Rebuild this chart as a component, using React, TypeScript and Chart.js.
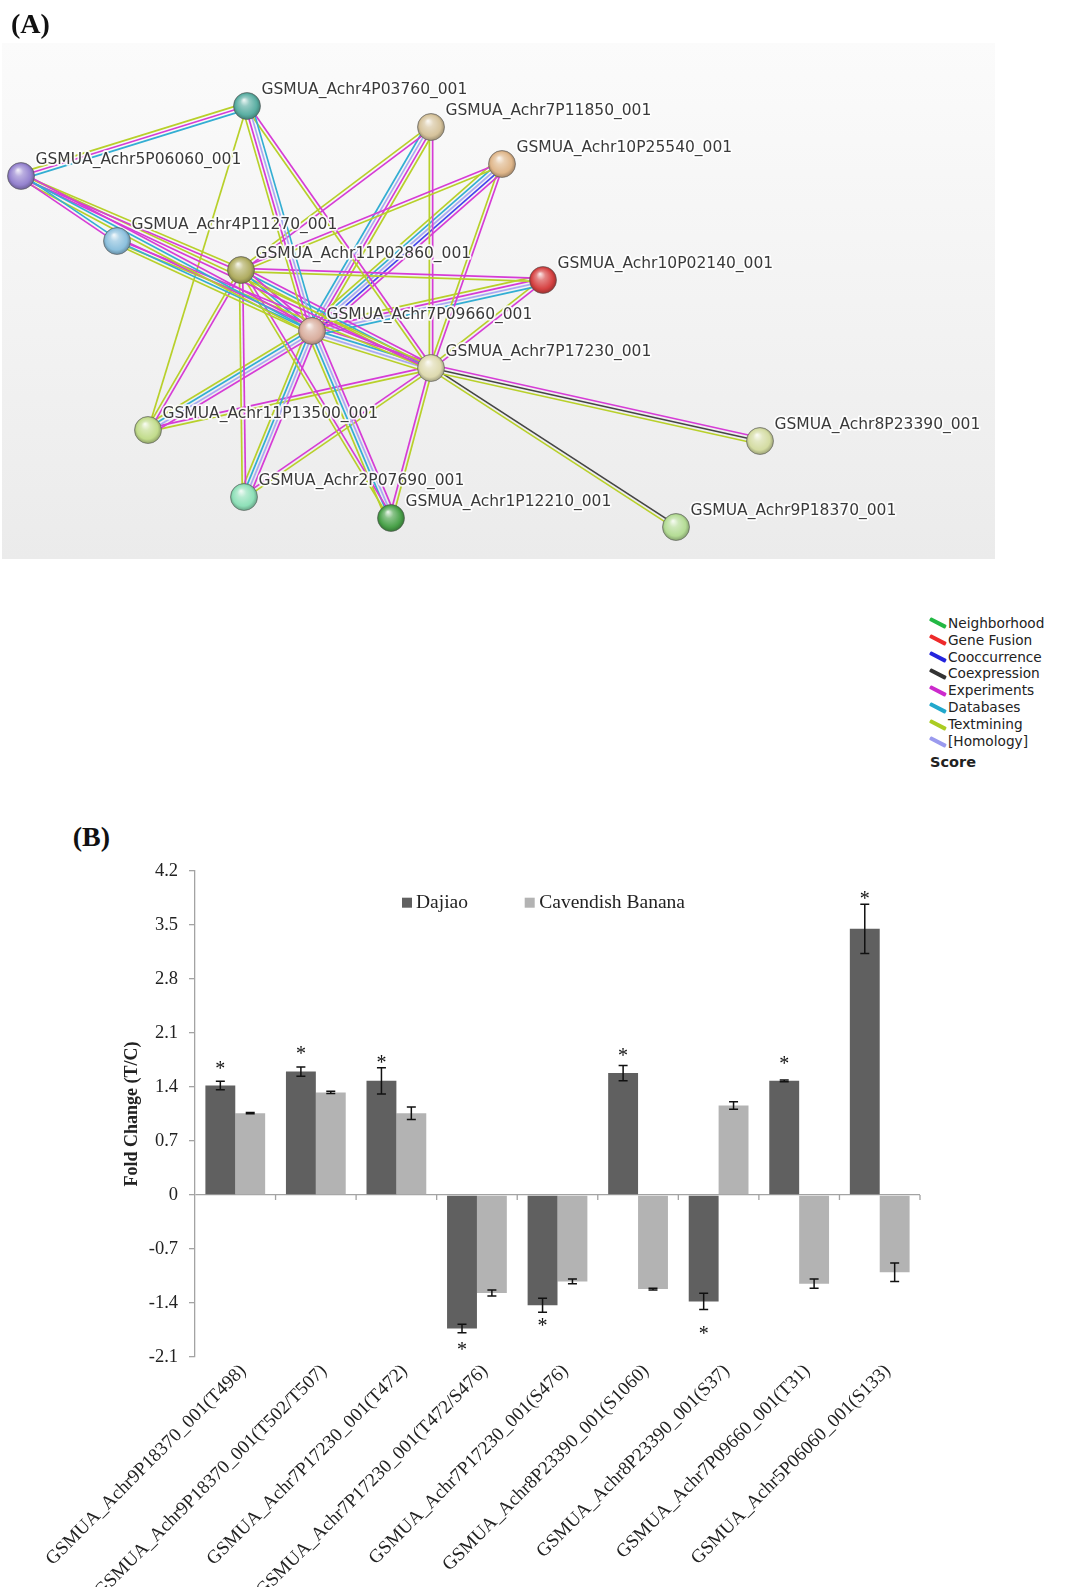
import React, { useEffect, useRef } from 'react';
import { Chart, registerables } from 'chart.js';

Chart.register(...registerables);

// ---------------- Panel A : interaction network ----------------
const nodeNames = [
  'GSMUA_Achr4P03760_001', 'GSMUA_Achr7P11850_001', 'GSMUA_Achr10P25540_001',
  'GSMUA_Achr5P06060_001', 'GSMUA_Achr4P11270_001', 'GSMUA_Achr11P02860_001',
  'GSMUA_Achr10P02140_001', 'GSMUA_Achr7P09660_001', 'GSMUA_Achr7P17230_001',
  'GSMUA_Achr11P13500_001', 'GSMUA_Achr8P23390_001', 'GSMUA_Achr2P07690_001',
  'GSMUA_Achr1P12210_001', 'GSMUA_Achr9P18370_001',
];
// layout coordinates of the nodes
const nodeX = [247, 431, 502, 21, 117, 241, 543, 312, 431, 148, 760, 244, 391, 676];
const nodeY = [106, 127, 164, 176, 241, 270, 280, 331, 368, 430, 441, 497, 518, 527];
const nodeColors = [
  '#5aaea2', '#d6c39c', '#dfb68a', '#9583cf', '#8cc0dd', '#b0ad62', '#d64242',
  '#d9ae9e', '#dedab0', '#c2dc8c', '#d4dca2', '#8ee0b8', '#4aa24a', '#b4dc95',
];
// evidence: t=textmining e=experiments d=databases h=homology c=coexpression o=cooccurrence
const edges: [number, number, string][] = [
  [3, 0, 'ted'], [3, 4, 'de'], [3, 7, 'edt'], [3, 5, 'te'], [3, 8, 'te'],
  [0, 7, 'dhet'], [0, 8, 'et'], [4, 7, 'edt'], [4, 8, 'et'],
  [5, 1, 'te'], [5, 2, 'et'], [5, 6, 'et'], [5, 7, 'edt'], [5, 8, 'edt'],
  [5, 9, 'et'], [5, 11, 'et'], [5, 12, 'et'],
  [1, 7, 'tehd'], [1, 8, 'et'], [2, 7, 'eohdt'], [2, 8, 'et'],
  [6, 7, 'dhet'], [6, 8, 'et'], [7, 8, 'edht'], [7, 9, 'ehdt'], [7, 11, 'ehdt'],
  [7, 12, 'ehdt'], [8, 9, 'te'], [8, 11, 'te'], [8, 12, 'te'], [8, 10, 'ect'],
  [8, 13, 'ct'], [0, 9, 't'],
];
const evidenceColor: Record<string, string> = {
  t: '#b8d02a', e: '#d63cd6', d: '#33aed3', h: '#aaaaf2', c: '#454545', o: '#4545ec',
};
const legendItems = ['Neighborhood', 'Gene Fusion', 'Cooccurrence', 'Coexpression', 'Experiments', 'Databases', 'Textmining', '[Homology]'];
const legendColors = ['#22b844', '#ee2a2a', '#2424dd', '#333333', '#cc2acc', '#22a8cc', '#aacc22', '#9a9aee'];

// ---------------- Panel B : fold change bars ----------------
const categories = [
  'GSMUA_Achr9P18370_001(T498)', 'GSMUA_Achr9P18370_001(T502/T507)', 'GSMUA_Achr7P17230_001(T472)',
  'GSMUA_Achr7P17230_001(T472/S476)', 'GSMUA_Achr7P17230_001(S476)', 'GSMUA_Achr8P23390_001(S1060)',
  'GSMUA_Achr8P23390_001(S37)', 'GSMUA_Achr7P09660_001(T31)', 'GSMUA_Achr5P06060_001(S133)',
];
const dajiao = [1.42, 1.60, 1.48, -1.73, -1.43, 1.58, -1.38, 1.48, 3.45];
const dajiaoErr = [0.055, 0.06, 0.17, 0.055, 0.09, 0.10, 0.105, 0.012, 0.32];
const cavendish = [1.06, 1.33, 1.06, -1.27, -1.12, -1.22, 1.16, -1.15, -1.00];
const cavendishErr = [0.008, 0.015, 0.08, 0.04, 0.03, 0.01, 0.05, 0.06, 0.12];
const starPos = [1.69, 1.88, 1.76, -1.96, -1.64, 1.86, -1.75, 1.75, 3.89];
const yTicksMin = -2.1;
const yTicksMax = 4.2;
const yStep = 0.7;

function hexToRgb(h: string) {
  const n = parseInt(h.slice(1), 16);
  return [(n >> 16) & 255, (n >> 8) & 255, n & 255];
}
function mix(h: string, target: number, a: number) {
  const [r, g, b] = hexToRgb(h);
  const f = (c: number) => Math.round(c + (target - c) * a);
  return `rgb(${f(r)},${f(g)},${f(b)})`;
}

function NetworkChart() {
  const ref = useRef<HTMLCanvasElement>(null);
  useEffect(() => {
    const datasets: any[] = [];
    const spacing = 3.3;
    edges.forEach(([a, b, ev]) => {
      const x1 = nodeX[a], y1 = nodeY[a], x2 = nodeX[b], y2 = nodeY[b];
      const dx = x2 - x1, dy = y2 - y1;
      const len = Math.hypot(dx, dy);
      const px = -dy / len, py = dx / len;
      ev.split('').forEach((k, i) => {
        const off = (i - (ev.length - 1) / 2) * spacing;
        datasets.push({
          data: [
            { x: x1 + px * off, y: y1 + py * off },
            { x: x2 + px * off, y: y2 + py * off },
          ],
          showLine: true,
          borderColor: evidenceColor[k],
          borderWidth: 1.7,
          pointRadius: 0,
          order: 2,
        });
      });
    });
    datasets.push({
      data: nodeX.map((x, i) => ({ x, y: nodeY[i] })),
      showLine: false,
      order: 0,
      pointRadius: 13.5,
      borderWidth: 1,
      borderColor: 'rgba(80,80,80,0.55)',
      backgroundColor: (c: any) => {
        const i = c.dataIndex;
        const chart = c.chart;
        if (i === undefined || !chart.chartArea) return nodeColors[0];
        const col = nodeColors[i];
        const cx = chart.scales.x.getPixelForValue(nodeX[i]);
        const cy = chart.scales.y.getPixelForValue(nodeY[i]);
        const g = chart.ctx.createRadialGradient(cx - 3, cy - 6, 0.5, cx, cy, 14);
        g.addColorStop(0, mix(col, 255, 0.85));
        g.addColorStop(0.3, mix(col, 255, 0.35));
        g.addColorStop(0.75, col);
        g.addColorStop(1, mix(col, 0, 0.3));
        return g;
      },
    });

    const bgPlugin = {
      id: 'bg',
      beforeDraw(chart: any) {
        const { ctx, chartArea: a } = chart;
        const g = ctx.createLinearGradient(0, a.top, 0, a.bottom);
        g.addColorStop(0, '#fbfbfb');
        g.addColorStop(1, '#ebebeb');
        ctx.save();
        ctx.fillStyle = g;
        ctx.fillRect(a.left, a.top, a.right - a.left, a.bottom - a.top);
        ctx.restore();
      },
    };
    const labelPlugin = {
      id: 'nodeLabels',
      afterDatasetsDraw(chart: any) {
        const { ctx } = chart;
        ctx.save();
        ctx.font = '15.5px "DejaVu Sans"';
        ctx.textBaseline = 'middle';
        ctx.textAlign = 'left';
        ctx.lineJoin = 'round';
        nodeNames.forEach((name, i) => {
          const x = chart.scales.x.getPixelForValue(nodeX[i]) + 14.5;
          const y = chart.scales.y.getPixelForValue(nodeY[i]) - 16.5;
          ctx.strokeStyle = 'rgba(255,255,255,0.9)';
          ctx.lineWidth = 3.5;
          ctx.strokeText(name, x, y);
          ctx.fillStyle = '#3a3a3a';
          ctx.fillText(name, x, y);
        });
        ctx.restore();
      },
    };

    const chart = new Chart(ref.current!, {
      type: 'scatter',
      data: { datasets },
      options: {
        animation: false,
        responsive: false,
        events: [],
        layout: { autoPadding: false, padding: { left: 2, top: 43, right: 73, bottom: 1 } },
        plugins: { legend: { display: false }, tooltip: { enabled: false } },
        scales: {
          x: { type: 'linear', min: 2, max: 995, display: false },
          y: { type: 'linear', min: 43, max: 559, reverse: true, display: false },
        },
      } as any,
      plugins: [bgPlugin, labelPlugin],
    });
    return () => chart.destroy();
  }, []);
  return (
    <canvas
      ref={ref}
      width={1068}
      height={560}
      style={{ position: 'absolute', left: 0, top: 0, width: 1068, height: 560 }}
    />
  );
}

function BarChart() {
  const ref = useRef<HTMLCanvasElement>(null);
  useEffect(() => {
    const gray = '#a3a3a3';
    const errPlugin = {
      id: 'errs',
      afterDatasetsDraw(chart: any) {
        const { ctx } = chart;
        const ys = chart.scales.y;
        const errs = [dajiaoErr, cavendishErr];
        const vals = [dajiao, cavendish];
        ctx.save();
        ctx.strokeStyle = '#111';
        ctx.lineWidth = 1.5;
        [0, 1].forEach((d) => {
          const meta = chart.getDatasetMeta(d);
          meta.data.forEach((bar: any, i: number) => {
            const x = bar.x;
            const yt = ys.getPixelForValue(vals[d][i] + errs[d][i]);
            const yb = ys.getPixelForValue(vals[d][i] - errs[d][i]);
            ctx.beginPath();
            ctx.moveTo(x, yt); ctx.lineTo(x, yb);
            ctx.moveTo(x - 4.5, yt); ctx.lineTo(x + 4.5, yt);
            ctx.moveTo(x - 4.5, yb); ctx.lineTo(x + 4.5, yb);
            ctx.stroke();
          });
        });
        // significance stars
        ctx.fillStyle = '#111';
        ctx.font = '20px "Liberation Serif"';
        ctx.textAlign = 'center';
        ctx.textBaseline = 'alphabetic';
        const meta0 = chart.getDatasetMeta(0);
        meta0.data.forEach((bar: any, i: number) => {
          const y = ys.getPixelForValue(starPos[i]);
          ctx.fillText('*', bar.x, y + 10);
        });
        // category tick marks on the zero line
        const xs = chart.scales.x;
        const y0 = ys.getPixelForValue(0);
        const n = categories.length;
        const w = (xs.right - xs.left) / n;
        ctx.strokeStyle = gray;
        ctx.lineWidth = 1.3;
        ctx.beginPath();
        for (let i = 1; i <= n; i++) {
          const x = xs.left + i * w;
          ctx.moveTo(x, y0);
          ctx.lineTo(x, y0 + 5);
        }
        ctx.stroke();
        ctx.restore();
      },
    };
    const legendPlugin = {
      id: 'legendB',
      afterDraw(chart: any) {
        const { ctx, chartArea: a } = chart;
        ctx.save();
        ctx.font = '19.5px "Liberation Serif"';
        ctx.textBaseline = 'alphabetic';
        ctx.textAlign = 'left';
        ctx.fillStyle = '#606060';
        ctx.fillRect(a.left + 207, a.top + 26.7, 10, 10);
        ctx.fillStyle = '#b3b3b3';
        ctx.fillRect(a.left + 329.7, a.top + 26.7, 10, 10);
        ctx.fillStyle = '#222';
        ctx.fillText('Dajiao', a.left + 221, a.top + 37.3);
        ctx.fillText('Cavendish Banana', a.left + 344.3, a.top + 37.3);
        ctx.restore();
      },
    };
    const chart = new Chart(ref.current!, {
      type: 'bar',
      data: {
        labels: categories,
        datasets: [
          { label: 'Dajiao', data: dajiao, backgroundColor: '#606060', categoryPercentage: 0.742, barPercentage: 1.0, borderWidth: 0 },
          { label: 'Cavendish Banana', data: cavendish, backgroundColor: '#b3b3b3', categoryPercentage: 0.742, barPercentage: 1.0, borderWidth: 0 },
        ],
      },
      options: {
        animation: false,
        responsive: false,
        events: [],
        layout: { padding: { top: 31, right: 148, left: 0, bottom: 0 } },
        plugins: { legend: { display: false }, tooltip: { enabled: false } },
        scales: {
          x: {
            grid: { display: false, drawTicks: false },
            border: { display: false },
            ticks: {
              autoSkip: false,
              minRotation: 45,
              maxRotation: 45,
              padding: 3,
              labelOffset: 8,
              color: '#222',
              font: { family: 'Liberation Serif', size: 19 },
            },
            afterFit: (s: any) => { s.height = 230; },
          },
          y: {
            min: yTicksMin,
            max: yTicksMax,
            ticks: {
              stepSize: yStep,
              padding: 11,
              color: '#222',
              font: { family: 'Liberation Serif', size: 18.5 },
              callback: (v: any) => (Math.abs(Number(v)) < 1e-9 ? '0' : Number(v).toFixed(1)),
            },
            grid: {
              color: (c: any) => (c.tick && Math.abs(c.tick.value) < 1e-9 ? gray : 'rgba(0,0,0,0)'),
              tickColor: gray,
              tickLength: 6,
              lineWidth: 1.3,
            },
            border: { color: gray, width: 1.3 },
            title: {
              display: true,
              text: 'Fold Change (T/C)',
              color: '#222',
              font: { family: 'Liberation Serif', size: 18, weight: 'bold' },
              padding: { top: 122, bottom: 0 },
            },
            afterFit: (s: any) => { s.width = 195; },
          },
        },
      } as any,
      plugins: [errPlugin, legendPlugin],
    });
    return () => chart.destroy();
  }, []);
  return (
    <canvas
      ref={ref}
      width={1068}
      height={747}
      style={{ position: 'absolute', left: 0, top: 840, width: 1068, height: 747 }}
    />
  );
}

export default function App() {
  const panelLabel: React.CSSProperties = {
    position: 'absolute',
    fontFamily: '"Liberation Serif", serif',
    fontWeight: 'bold',
    fontSize: 28,
    lineHeight: '28px',
    color: '#111',
    whiteSpace: 'nowrap',
  };
  return (
    <div style={{ position: 'absolute', left: 0, top: 0, width: 1068, height: 1587, overflow: 'hidden', background: '#fff' }}>
      <NetworkChart />
      <div style={{ ...panelLabel, left: 11, top: 10 }}>(A)</div>
      <div style={{ position: 'absolute', left: 927, top: 614.8, fontFamily: '"DejaVu Sans", sans-serif', fontSize: 13.7, color: '#222' }}>
        {legendItems.map((t, i) => (
          <div key={t} style={{ position: 'relative', height: 16.9, lineHeight: '16.9px', whiteSpace: 'nowrap' }}>
            <span
              style={{
                position: 'absolute',
                left: 1.5,
                top: 6.7,
                width: 18,
                height: 3.5,
                background: legendColors[i],
                transform: 'rotate(27deg)',
                borderRadius: 1,
              }}
            />
            <span style={{ position: 'absolute', left: 21 }}>{t}</span>
          </div>
        ))}
        <div style={{ position: 'relative', marginTop: 3.4, height: 18, lineHeight: '18px', fontWeight: 'bold', fontSize: 14.5, left: 3 }}>Score</div>
      </div>
      <div style={{ ...panelLabel, left: 72.7, top: 823.3 }}>(B)</div>
      <BarChart />
    </div>
  );
}
